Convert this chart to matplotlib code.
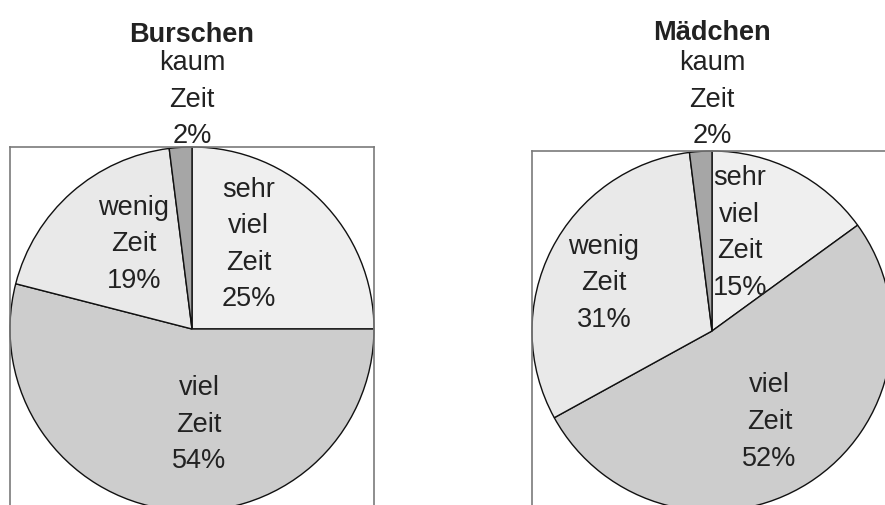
import matplotlib.pyplot as plt

plt.rcParams['font.family'] = ['Liberation Sans', 'DejaVu Sans']

# Data
categories = ["sehr\nviel\nZeit", "viel\nZeit", "wenig\nZeit", "kaum\nZeit"]
burschen = [25, 54, 19, 2]
maedchen = [15, 52, 31, 2]
titles = ["Burschen", "Mädchen"]

colors = ['#efefef', '#cdcdcd', '#e9e9e9', '#a6a6a6']

# label positions (relative to pie radius) for each slice
label_pos_b = [(0.31, 0.47), (0.04, -0.52), (-0.32, 0.47), (0.0, 1.265)]
label_pos_m = [(0.155, 0.55), (0.32, -0.50), (-0.60, 0.27), (0.0, 1.29)]

W, H = 885, 506
fig = plt.figure(figsize=(W / 100, H / 100), dpi=100)

# axes boxes in pixels: left, top, size
boxes = [(10, 148, 364), (532, 152, 360)]

for (left, top, size), vals, pos, title in zip(
        boxes, [burschen, maedchen], [label_pos_b, label_pos_m], titles):
    ax = fig.add_axes([left / W, (H - top - size) / H, size / W, size / H])
    ax.pie(vals, colors=colors, startangle=90, counterclock=False,
           radius=1, center=(0, 0), frame=True,
           wedgeprops=dict(edgecolor='#111111', linewidth=1.0))
    ax.set_xlim(-1, 1)
    ax.set_ylim(-1, 1)
    ax.set_aspect('auto')
    ax.set_xticks([])
    ax.set_yticks([])
    for sp in ax.spines.values():
        sp.set_color('#7a7a7a')
        sp.set_linewidth(1.2)
    for lab, v, (x, y) in zip(categories, vals, pos):
        ax.text(x, y, f"{lab}\n{v}%", ha='center', va='center',
                fontsize=19.5, color='#222222', linespacing=1.53,
                clip_on=False)
    cx = (left + size / 2) / W
    fig.text(cx, 1 - (33 if title == "Mädchen" else 35) / H, title,
             ha='center', va='center', fontsize=19.5, fontweight='bold',
             color='#222222')

fig.savefig('out.png', dpi=100)
